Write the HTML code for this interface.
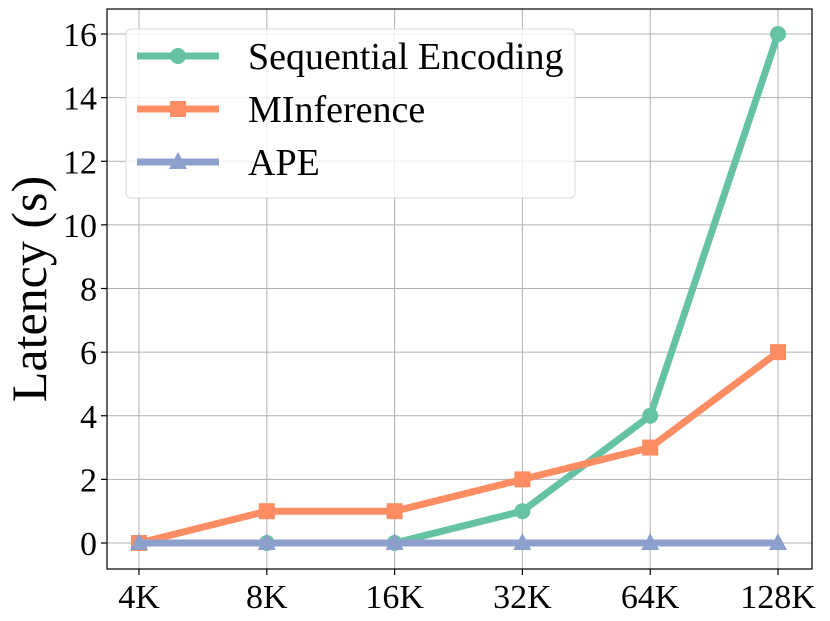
<!DOCTYPE html>
<html><head><style>body{margin:0;background:#fff}svg{display:block}text{font-family:"Liberation Serif",serif;fill:#000}</style></head>
<body>
<svg id="c" width="830" height="621"></svg>
<script>
const categories=["4K","8K","16K","32K","64K","128K"];
const seqValues=[0,0,0,1,4,16];
const minfValues=[0,1,1,2,3,6];
const apeValues=[0,0,0,0,0,0];
const yTicks=[0,2,4,6,8,10,12,14,16];
const NS="http://www.w3.org/2000/svg";
const svg=document.getElementById('c');
const L=107,R=812,T=9,B=569;
const x=i=>139+i*127.8;
const y=v=>543-v*(509/16);
function el(t,a,p){const e=document.createElementNS(NS,t);for(const k in a)e.setAttribute(k,a[k]);(p||svg).appendChild(e);return e;}
const grid=el('g',{});
categories.forEach((c,i)=>{
 el('line',{x1:x(i),x2:x(i),y1:T,y2:B,stroke:'#b0b0b0','stroke-width':1},grid);
 el('line',{x1:x(i),x2:x(i),y1:B,y2:B+6,stroke:'#000','stroke-width':1.2});
 const t=el('text',{x:x(i),y:B+39,'font-size':34,'text-anchor':'middle'});t.textContent=c;
 
});
yTicks.forEach(v=>{
 el('line',{x1:L,x2:R,y1:y(v),y2:y(v),stroke:'#b0b0b0','stroke-width':1},grid);
 el('line',{x1:L-6,x2:L,y1:y(v),y2:y(v),stroke:'#000','stroke-width':1.2});
 const t=el('text',{x:L-10,y:y(v)+12,'font-size':34,'text-anchor':'end'});t.textContent=v;
 
});
const yl=el('text',{x:0,y:0,'font-size':50,'text-anchor':'middle',transform:`translate(46,${(T+B)/2}) rotate(-90)`});yl.textContent='Latency (s)';

function marker(type,cx,cy,col,g){
 if(type==='o')el('circle',{cx,cy,r:8,fill:col},g);
 else if(type==='s')el('rect',{x:cx-8,y:cy-8,width:16,height:16,fill:col},g);
 else el('polygon',{points:`${cx},${cy-10} ${cx-9},${cy+7} ${cx+9},${cy+7}`,fill:col},g);
}
function series(vals,col,type,name){
 const g=el('g',{});
 el('polyline',{points:vals.map((v,i)=>x(i)+','+y(v)).join(' '),fill:'none',stroke:col,'stroke-width':7,'stroke-linejoin':'round'},g);
 vals.forEach((v,i)=>marker(type,x(i),y(v),col,g));
}
series(seqValues,'#66c2a5','o','series-sequential-encoding');
series(minfValues,'#fc8d62','s','series-minference');
series(apeValues,'#8da0cb','^','series-ape');
el('rect',{x:L,y:T,width:R-L,height:B-T,fill:'none',stroke:'#000','stroke-width':1.2});
const lg=el('g',{});
el('rect',{x:126,y:29,width:449,height:169,rx:5,fill:'rgba(255,255,255,0.8)',stroke:'#d8d8d8'},lg);
[['Sequential Encoding','#66c2a5','o'],['MInference','#fc8d62','s'],['APE','#8da0cb','^']].forEach((s,i)=>{
 const cy=56+i*53;
 el('line',{x1:137,x2:219,y1:cy,y2:cy,stroke:s[1],'stroke-width':7},lg);
 marker(s[2],178,cy,s[1],lg);
 const t=el('text',{x:248,y:cy+13,'font-size':38},lg);t.textContent=s[0];
 
});
</script>
</body></html>
